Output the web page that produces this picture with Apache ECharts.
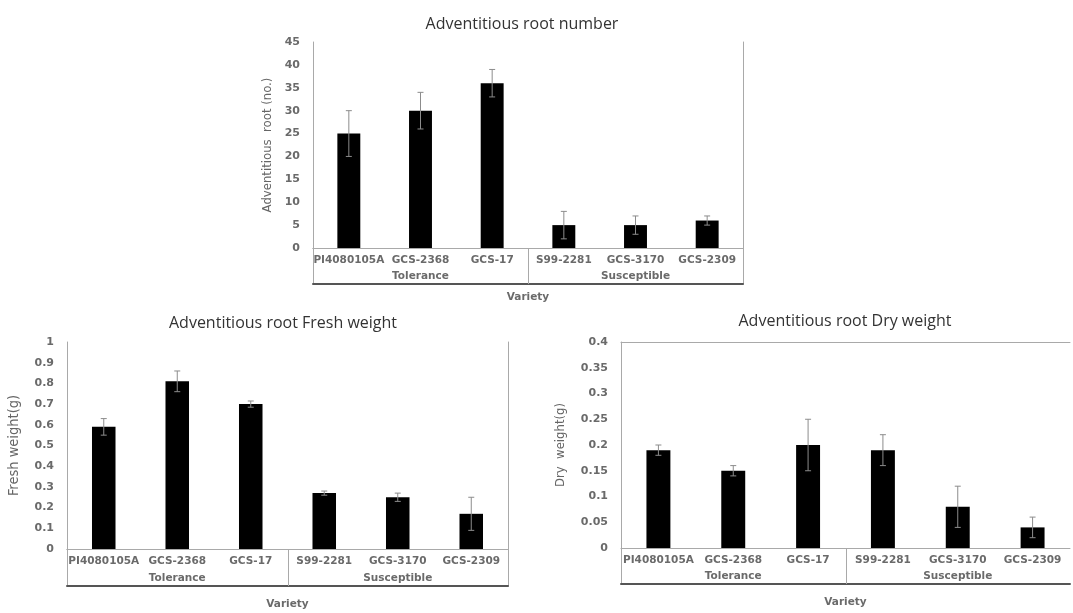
<!DOCTYPE html>
<html>
<head>
<meta charset="utf-8">
<title>Adventitious root traits by variety</title>
<script src="https://cdn.jsdelivr.net/npm/echarts@6/dist/echarts.min.js"></script>
<style>
  html, body { margin: 0; padding: 0; background: #fff; }
  #chart { width: 1073px; height: 613px; }
</style>
</head>
<body>
<div id="chart"></div>
<script>
// Varieties and their tolerance groups
const varieties = ['PI4080105A', 'GCS-2368', 'GCS-17', 'S99-2281', 'GCS-3170', 'GCS-2309'];
const groups = ['Tolerance', 'Susceptible'];

// Adventitious root number (mean and error)
const rootNumber = [25, 30, 36, 5, 5, 6];
const rootNumberErr = [5, 4, 3, 3, 2, 1];

// Adventitious root fresh weight, g
const freshWeight = [0.59, 0.81, 0.70, 0.27, 0.25, 0.17];
const freshWeightErr = [0.04, 0.05, 0.015, 0.01, 0.02, 0.08];

// Adventitious root dry weight, g
const dryWeight = [0.19, 0.15, 0.20, 0.19, 0.08, 0.04];
const dryWeightErr = [0.01, 0.01, 0.05, 0.03, 0.04, 0.02];

// Y axis tick settings
const rootNumberTicks = { max: 45, interval: 5 };
const freshWeightTicks = { max: 1, interval: 0.1 };
const dryWeightTicks = { max: 0.4, interval: 0.05 };

const panels = [
  {
    title: 'Adventitious root number', yName: 'Adventitious  root (no.)',
    values: rootNumber, errs: rootNumberErr, ticks: rootNumberTicks,
    left: 313, top: 42, width: 430, plotH: 206, bandH: 36,
    titleX: 517, titleY: 11, yNameGap: 39, yNameSize: 13, varietyGap: 8, rightEdge: true
  },
  {
    title: 'Adventitious root Fresh weight', yName: 'Fresh weight(g)',
    values: freshWeight, errs: freshWeightErr, ticks: freshWeightTicks,
    left: 67, top: 342, width: 441, plotH: 207, bandH: 37,
    titleX: 278, titleY: 310, yNameGap: 45, yNameSize: 14.5, varietyGap: 13, rightEdge: true
  },
  {
    title: 'Adventitious root Dry weight', yName: 'Dry  weight(g)',
    values: dryWeight, errs: dryWeightErr, ticks: dryWeightTicks,
    left: 621, top: 342, width: 449, plotH: 206, bandH: 36,
    titleX: 840, titleY: 308, yNameGap: 54, yNameSize: 13, varietyGap: 13, rightEdge: false
  }
];

const textGray = '#6a6a6a';
const frameGray = '#a9a9a9';
const tickFont = 'DejaVu Sans';

const option = {
  backgroundColor: '#ffffff',
  animation: false,
  title: [], grid: [], xAxis: [], yAxis: [], series: []
};

function lineAxis(extra) {
  return Object.assign({
    axisTick: { show: false },
    axisLabel: { show: false },
    splitLine: { show: false },
    axisLine: { show: true, lineStyle: { color: frameGray, width: 1 } }
  }, extra);
}

panels.forEach(function (p) {
  option.title.push({
    text: p.title, left: p.titleX, top: p.titleY, textAlign: 'center',
    textStyle: { fontFamily: 'Open Sans', fontWeight: 'normal', fontSize: 16, color: '#333' }
  });

  const plotGrid = option.grid.length;
  option.grid.push({ left: p.left, top: p.top, width: p.width, height: p.plotH, show: false });
  const bandGrid = option.grid.length;
  option.grid.push({ left: p.left, top: p.top + p.plotH, width: p.width, height: p.bandH, show: false });

  // plot area: variety labels along the zero line, frame on top
  const plotX = option.xAxis.length;
  option.xAxis.push(lineAxis({
    type: 'category', gridIndex: plotGrid, data: varieties, position: 'bottom', z: 5,
    axisLabel: { show: true, color: textGray, fontFamily: tickFont, fontWeight: 'bold', fontSize: 10.5, margin: 7, interval: 0 }
  }));
  option.xAxis.push(lineAxis({ type: 'category', gridIndex: plotGrid, data: varieties, position: 'top' }));

  // band below: group labels and bottom rule, "Variety" underneath
  const bandX = option.xAxis.length;
  option.xAxis.push(lineAxis({
    type: 'category', gridIndex: bandGrid, data: groups, position: 'bottom',
    axisLine: { show: true, lineStyle: { color: '#555', width: 2 } },
    axisLabel: { show: true, inside: true, margin: 2, color: textGray, fontFamily: tickFont, fontWeight: 'bold', fontSize: 10.5 },
    name: 'Variety', nameLocation: 'middle', nameGap: p.varietyGap,
    nameTextStyle: { color: textGray, fontFamily: tickFont, fontWeight: 'bold', fontSize: 10.5, verticalAlign: 'top' }
  }));

  const plotY = option.yAxis.length;
  option.yAxis.push(lineAxis({
    type: 'value', gridIndex: plotGrid, min: 0, max: p.ticks.max, interval: p.ticks.interval, position: 'left',
    axisLabel: { show: true, color: textGray, fontFamily: tickFont, fontWeight: 'bold', fontSize: 11, margin: 13 },
    name: p.yName, nameLocation: 'middle', nameGap: p.yNameGap,
    nameTextStyle: { fontFamily: 'DejaVu Sans Condensed', fontSize: p.yNameSize, color: '#666' }
  }));
  const bandY = option.yAxis.length;
  option.yAxis.push(lineAxis({ type: 'value', gridIndex: bandGrid, min: 0, max: 1, position: 'left' }));
  if (p.rightEdge) {
    option.yAxis.push(lineAxis({ type: 'value', gridIndex: plotGrid, min: 0, max: p.ticks.max, position: 'right' }));
    option.yAxis.push(lineAxis({ type: 'value', gridIndex: bandGrid, min: 0, max: 1, position: 'right' }));
  }

  option.series.push({
    type: 'bar', xAxisIndex: plotX, yAxisIndex: plotY, data: p.values,
    barWidth: '32%', itemStyle: { color: '#000' }, z: 2
  });

  option.series.push({
    type: 'custom', xAxisIndex: plotX, yAxisIndex: plotY, z: 3,
    data: p.values.map(function (v, i) { return [i, v, p.errs[i]]; }),
    encode: { x: 0, y: 1 },
    renderItem: function (params, api) {
      const i = api.value(0), v = api.value(1), e = api.value(2);
      const hi = api.coord([i, v + e]);
      const lo = api.coord([i, v - e]);
      const cap = 3;
      const style = { stroke: '#8c8c8c', lineWidth: 1 };
      return {
        type: 'group',
        children: [
          { type: 'line', shape: { x1: hi[0], y1: hi[1], x2: lo[0], y2: lo[1] }, style: style },
          { type: 'line', shape: { x1: hi[0] - cap, y1: hi[1], x2: hi[0] + cap, y2: hi[1] }, style: style },
          { type: 'line', shape: { x1: lo[0] - cap, y1: lo[1], x2: lo[0] + cap, y2: lo[1] }, style: style }
        ]
      };
    }
  });

  // divider between the two groups in the label band
  option.series.push({
    type: 'custom', xAxisIndex: bandX, yAxisIndex: bandY, z: 3,
    data: [[1, 0]],
    renderItem: function (params, api) {
      const bottom = api.coord([api.value(0), 0]);
      const top = api.coord([api.value(0), 1]);
      const w = api.size([1, 0])[0];
      const x = Math.round(bottom[0] - w / 2) + 0.5;
      return {
        type: 'line',
        shape: { x1: x, y1: bottom[1], x2: x, y2: top[1] },
        style: { stroke: frameGray, lineWidth: 1 }
      };
    }
  });
});

const chart = echarts.init(document.getElementById('chart'), null, { renderer: 'canvas' });
chart.setOption(option);
</script>
</body>
</html>
